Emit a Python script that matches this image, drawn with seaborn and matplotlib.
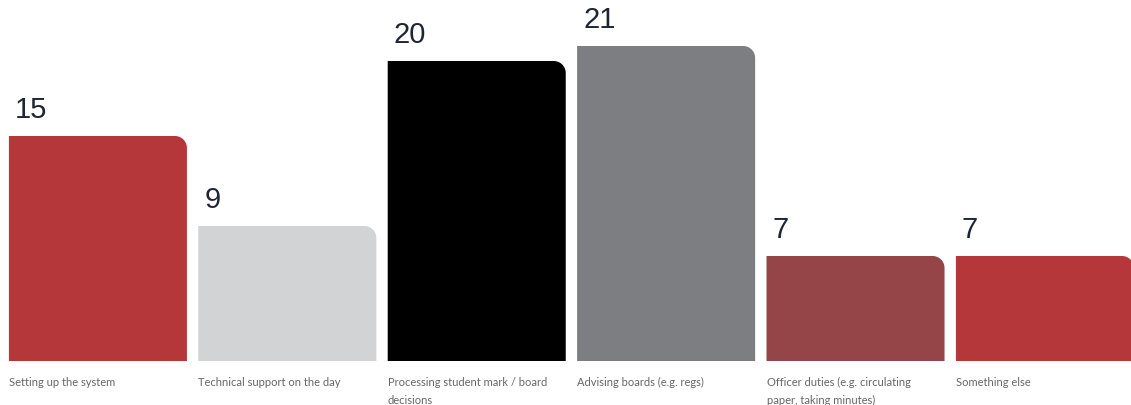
import numpy as np
import pandas as pd
import matplotlib
matplotlib.use("Agg")
import matplotlib.pyplot as plt
import seaborn as sns
from matplotlib.path import Path
from matplotlib.patches import PathPatch

# data
categories = [
    "Setting up the system",
    "Technical support on the day",
    "Processing student mark / board\ndecisions",
    "Advising boards (e.g. regs)",
    "Officer duties (e.g. circulating\npaper, taking minutes)",
    "Something else",
]
values = [15, 9, 20, 21, 7, 7]
colors = ["#b5373a", "#d1d3d4", "#000000", "#7d7e82", "#954548", "#b5373a"]

df = pd.DataFrame({"category": categories, "value": values})

sns.set_style("white")

W, H = 1131, 406
fig = plt.figure(figsize=(W / 100, H / 100), dpi=100)
ax = fig.add_axes([0, 44 / H, 1, 362 / H])

bar_w = 0.94
sns.barplot(data=df, x="category", y="value", hue="category",
            palette=colors, legend=False, width=bar_w, saturation=1, ax=ax)

# px per data unit
step_px = 189.4
unit_px = 15.0
ax.set_xlim(-0.517, -0.517 + W / step_px)
ax.set_ylim(0, 362 / unit_px)
ax.set_axis_off()

# replace rectangles with top-right rounded ones
r_px = 12
rx = r_px / step_px
ry = r_px / unit_px
for p in list(ax.patches):
    x0, y0 = p.get_x(), p.get_y()
    w, h = p.get_width(), p.get_height()
    col = p.get_facecolor()
    t = np.linspace(0, np.pi / 2, 20)
    arc_x = x0 + w - rx + rx * np.sin(t)
    arc_y = y0 + h - ry + ry * np.cos(t)
    xs = [x0, x0] + list(arc_x) + [x0 + w, x0]
    ys = [y0, y0 + h] + list(arc_y) + [y0, y0]
    verts = list(zip(xs, ys))
    codes = [Path.MOVETO] + [Path.LINETO] * (len(verts) - 2) + [Path.CLOSEPOLY]
    ax.add_patch(PathPatch(Path(verts, codes), facecolor=col, edgecolor="none"))
    p.remove()

for i, (cat, val) in enumerate(zip(categories, values)):
    left = i - bar_w / 2
    ax.annotate(str(val), xy=(left, val), xytext=(6, 19),
                textcoords="offset pixels", ha="left", va="baseline",
                fontsize=21, color="#1e2633", family="Liberation Sans",
                annotation_clip=False)
    ax.annotate(cat, xy=(left, 0), xytext=(0, -15),
                textcoords="offset pixels", ha="left", va="top",
                fontsize=8, color="#666666", family="Lato",
                linespacing=1.75, annotation_clip=False)

fig.savefig("out.png", dpi=100)
